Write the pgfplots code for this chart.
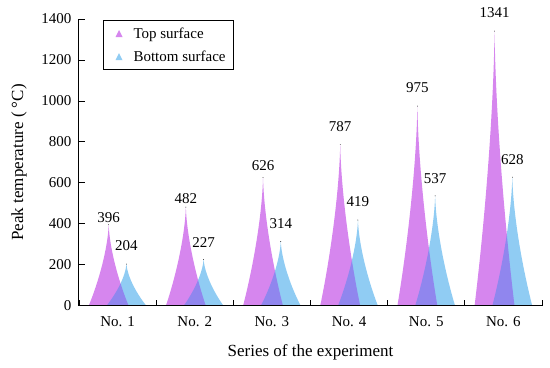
\documentclass[border=0pt]{standalone}
\usepackage{pgfplots}
\pgfplotsset{compat=1.18}
\usepackage{pgfplotstable}
\usepackage{fontspec}
\setmainfont{Liberation Serif}
\definecolor{topc}{RGB}{214,134,238}
\definecolor{botc}{RGB}{144,204,243}

\pgfplotstableread{
x     y     off
-0.115 396  7
0.885  482  9
1.885  626  12
2.885  787  18
3.885  975  18
4.885  1341 18
}\toptable
\pgfplotstableread{
x     y     off
0.115  204  18
1.115  227  17
2.115  314  18
3.115  419  18
4.115  537  17
5.115  628  18
}\bottable

% draws a concave spike from the data point down to the x axis
\newcommand\conecode[1]{%
  \pgfmathsetlengthmacro\coneh{\coneval*0.205bp}%
  \fill[#1, draw=none, blend mode=darken] (-20bp,-\coneh) .. controls (-10bp,-0.7*\coneh) and (-1bp,-0.3*\coneh) .. (0bp,0bp)
     .. controls (1bp,-0.3*\coneh) and (10bp,-0.7*\coneh) .. (20bp,-\coneh) -- cycle;%
}
\pgfplotsset{
  cone plot/.style={scatter, only marks, mark=*, mark size=0.01pt, mark options={draw=none, fill=none},
    visualization depends on={\thisrow{y} \as \coneval},
    scatter/@pre marker code/.code={\conecode{#1}},
    scatter/@post marker code/.code={},
    legend image code/.code={\fill[#1, draw=none] (6bp,-3.5bp) -- (13bp,-3.5bp) -- (9.5bp,3.5bp) -- cycle;
       \path[draw=none, fill=none] (0bp,0bp) -- (22bp,0bp);}},
  label plot/.style={only marks, mark=*, mark size=0.01pt, mark options={draw=none, fill=none},
    forget plot,
    visualization depends on={\thisrow{off} \as \off},
    nodes near coords,
    every node near coord/.append style={anchor=center, yshift=\off bp, black,
      font=\fontsize{15bp}{17bp}\selectfont}},
}

\begin{document}
\begin{tikzpicture}
\begin{axis}[
  name=ax,
  x=77.2bp, y=0.205bp,
  xmin=-0.5, xmax=5.5, ymin=0, ymax=1400,
  axis x line*=bottom, axis y line*=left,
  axis line style={black, line width=1pt},
  ytick={0,200,...,1400},
  yticklabel={\rmfamily\pgfmathprintnumber{\tick}},
  yticklabel style={xshift=-4bp},
  xtick={0,...,5},
  xticklabels={No. 1,No. 2,No. 3,No. 4,No. 5,No. 6},
  xticklabel shift=7bp,
  every major x tick/.append style={draw=none},
  minor xtick={-0.5,0.5,...,5.5},
  tick align=inside,
  major tick length=6bp, minor tick length=6bp,
  every tick/.append style={black, line width=0.9pt},
  ticklabel style={font=\fontsize{15bp}{17bp}\selectfont},
  /pgf/number format/assume math mode=true,
  /pgf/number format/1000 sep={},
  xlabel={Series of the experiment},
  ylabel={Peak temperature ( °C)},
  xlabel shift=11bp,
  ylabel shift=8bp,
  label style={font=\fontsize{17bp}{19bp}\selectfont},
  legend style={at={(rel axis cs:0,1)}, anchor=north west, xshift=24bp, yshift=-1bp,
    draw=black, line width=1.2pt, font=\fontsize{15bp}{17bp}\selectfont,
    row sep=7bp, inner xsep=6bp, inner ysep=5bp},
  legend cell align=left,
]
\addplot[cone plot=topc] table[x=x, y=y] {\toptable};
\addlegendentry{Top surface}
\addplot[cone plot=botc] table[x=x, y=y] {\bottable};
\addlegendentry{Bottom surface}
\addplot[label plot] table[x=x, y=y] {\toptable};
\addplot[label plot] table[x=x, y=y] {\bottable};
\end{axis}
\path ([shift={(-79bp,-62bp)}]ax.south west) rectangle ([shift={(8bp,19bp)}]ax.north east);
\end{tikzpicture}
\end{document}
